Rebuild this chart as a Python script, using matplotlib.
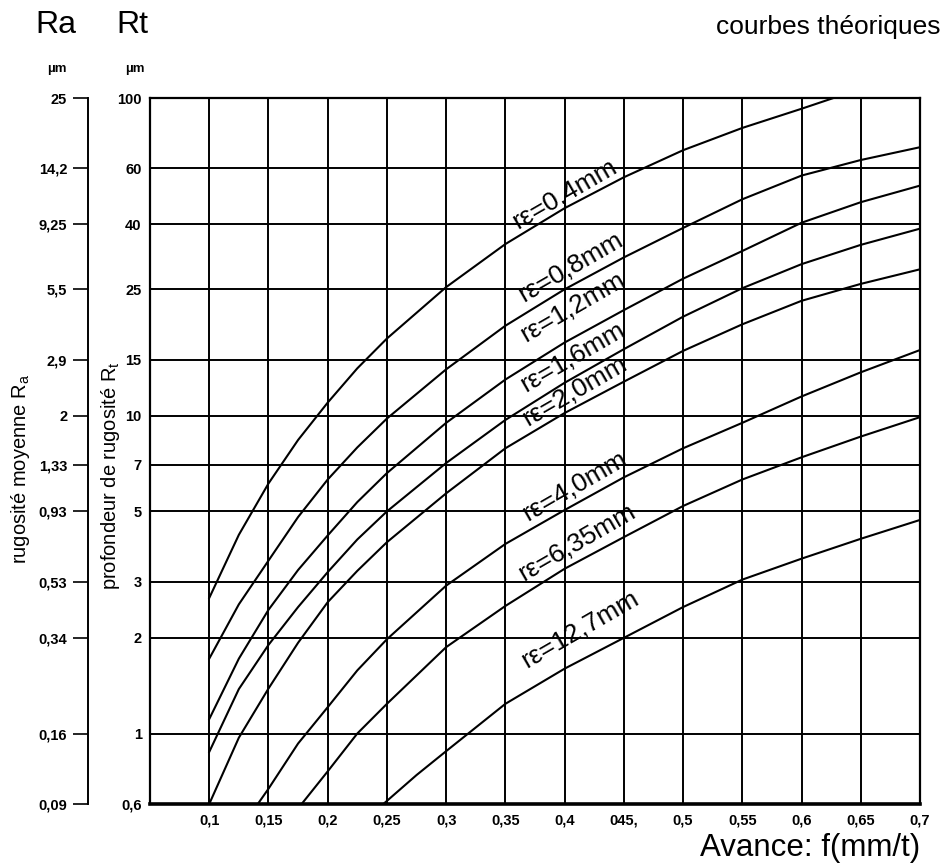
import matplotlib
matplotlib.use('Agg')
import matplotlib.pyplot as plt
from matplotlib.ticker import NullLocator

plt.rcParams['font.family'] = ['Liberation Sans', 'DejaVu Sans']

# ---- axis data ----
feed_ticks = [0.1, 0.15, 0.2, 0.25, 0.3, 0.35, 0.4, 0.45, 0.5, 0.55, 0.6, 0.65, 0.7]
feed_labels = ["0,1", "0,15", "0,2", "0,25", "0,3", "0,35", "0,4", "045,", "0,5",
               "0,55", "0,6", "0,65", "0,7"]
rt_ticks = [0.6, 1, 2, 3, 5, 7, 10, 15, 25, 40, 60, 100]
rt_labels = ["0,6", "1", "2", "3", "5", "7", "10", "15", "25", "40", "60", "100"]
ra_labels = ["0,09", "0,16", "0,34", "0,53", "0,93", "1,33", "2", "2,9", "5,5",
             "9,25", "14,2", "25"]

# ---- curves (feed f in mm/t, Rt in µm) ----
f_04 = [0.1, 0.125, 0.15, 0.175, 0.2, 0.225, 0.25, 0.3, 0.35, 0.4, 0.45, 0.5,
        0.55, 0.6, 0.627]
rt_04 = [2.67, 4.22, 6.12, 8.39, 11.0, 14.1, 17.5, 25.4, 34.7, 45, 56.3, 68.5,
         80.5, 92.5, 100]

f_08 = [0.1, 0.125, 0.15, 0.175, 0.2, 0.225, 0.25, 0.3, 0.35, 0.4, 0.45, 0.5,
        0.55, 0.6, 0.65, 0.7]
rt_08 = [1.72, 2.55, 3.5, 4.8, 6.3, 7.95, 9.8, 14, 19.2, 25, 31.5, 39,
         48, 57, 63.8, 70]

f_12 = [0.1, 0.125, 0.15, 0.175, 0.2, 0.225, 0.25, 0.3, 0.35, 0.4, 0.45, 0.5,
        0.55, 0.6, 0.65, 0.7]
rt_12 = [1.11, 1.72, 2.45, 3.27, 4.2, 5.35, 6.6, 9.5, 13, 17, 21.5, 27,
         33, 40.5, 47, 53]

f_16 = [0.1, 0.125, 0.15, 0.175, 0.2, 0.225, 0.25, 0.3, 0.35, 0.4, 0.45, 0.5,
        0.55, 0.6, 0.65, 0.7]
rt_16 = [0.875, 1.38, 1.9, 2.5, 3.22, 4.08, 5.0, 7.1, 9.7, 12.7, 16.2, 20.5,
         25.2, 30, 34.5, 38.8]

f_20 = [0.1, 0.125, 0.15, 0.175, 0.2, 0.225, 0.25, 0.3, 0.35, 0.4, 0.45, 0.5,
        0.55, 0.6, 0.65, 0.7]
rt_20 = [0.6, 0.97, 1.385, 1.93, 2.59, 3.25, 4.0, 5.7, 7.9, 10.2, 12.8, 16,
         19.4, 23, 26, 28.9]

f_40 = [0.141, 0.15, 0.175, 0.2, 0.225, 0.25, 0.3, 0.35, 0.4, 0.45, 0.5, 0.55,
        0.6, 0.65, 0.7]
rt_40 = [0.6, 0.67, 0.93, 1.21, 1.58, 1.98, 2.92, 3.95, 5.05, 6.4, 7.9, 9.5,
         11.5, 13.7, 16.1]

f_635 = [0.178, 0.2, 0.225, 0.25, 0.3, 0.35, 0.4, 0.45, 0.5, 0.55, 0.6, 0.65, 0.7]
rt_635 = [0.6, 0.76, 1.0, 1.24, 1.87, 2.52, 3.3, 4.15, 5.2, 6.3, 7.4, 8.6, 9.9]

f_127 = [0.247, 0.275, 0.3, 0.35, 0.4, 0.45, 0.5, 0.55, 0.6, 0.65, 0.7]
rt_127 = [0.6, 0.74, 0.88, 1.24, 1.6, 2.0, 2.5, 3.05, 3.55, 4.1, 4.7]

curve_labels = ["rε=0,4mm", "rε=0,8mm", "rε=1,2mm", "rε=1,6mm", "rε=2,0mm",
                "rε=4,0mm", "rε=6,35mm", "rε=12,7mm"]
label_f = [0.400, 0.405, 0.407, 0.407, 0.408, 0.408, 0.41, 0.413]
label_rt = [50, 29.5, 22, 15.3, 12.0, 6.0, 4.0, 2.13]

W, H = 946, 868
fig = plt.figure(figsize=(W / 100, H / 100), dpi=100)
fig.patch.set_facecolor('white')

ax = fig.add_axes([150 / W, 1 - 804 / H, 770 / W, 706 / H])
ax.set_yscale('log')
ax.set_xlim(0.05, 0.7)
ax.set_ylim(0.6, 100)
ax.set_xticks(feed_ticks, feed_labels)
ax.set_yticks(rt_ticks, rt_labels)
ax.yaxis.set_minor_locator(NullLocator())
ax.xaxis.set_minor_locator(NullLocator())
ax.grid(True, color='black', lw=1.4)
ax.set_axisbelow(True)
ax.tick_params(axis='both', length=0)
ax.tick_params(axis='x', pad=7, labelsize=10.5)
ax.tick_params(axis='y', pad=6, labelsize=10.5)
for lab in ax.get_xticklabels() + ax.get_yticklabels():
    lab.set_fontweight('bold')
for sp in ax.spines.values():
    sp.set_linewidth(1.6)
ax.spines['bottom'].set_linewidth(2.6)

series = [(f_04, rt_04), (f_08, rt_08), (f_12, rt_12), (f_16, rt_16),
          (f_20, rt_20), (f_40, rt_40), (f_635, rt_635), (f_127, rt_127)]
for fx, ry in series:
    ax.plot(fx, ry, color='black', lw=1.5, solid_joinstyle='round')

for txt, fx, ry in zip(curve_labels, label_f, label_rt):
    ax.text(fx, ry, txt, rotation=30, rotation_mode='anchor', ha='center',
            va='center', fontsize=19)

# Ra scale
ax2 = fig.add_axes([88 / W, 1 - 804 / H, 0.0005, 706 / H])
ax2.set_yscale('log')
ax2.set_ylim(0.6, 100)
ax2.set_yticks(rt_ticks, ra_labels)
ax2.yaxis.set_minor_locator(NullLocator())
ax2.set_xticks([])
ax2.patch.set_alpha(0)
for k in ['top', 'right', 'bottom']:
    ax2.spines[k].set_visible(False)
ax2.spines['left'].set_linewidth(1.4)
ax2.tick_params(axis='y', direction='out', length=11, width=1.2, pad=4,
                labelsize=10.5)
for lab in ax2.get_yticklabels():
    lab.set_fontweight('bold')

# headers and titles
fig.text(35 / W, 1 - 25 / H, "Ra", fontsize=23, ha='left', va='center')
fig.text(116 / W, 1 - 25 / H, "Rt", fontsize=23, ha='left', va='center')
fig.text(57 / W, 1 - 69 / H, "µm", fontsize=9.5, fontweight='bold', ha='center', va='center')
fig.text(135 / W, 1 - 69 / H, "µm", fontsize=9.5, fontweight='bold', ha='center', va='center')
fig.text(940 / W, 1 - 27 / H, "courbes théoriques", fontsize=19, ha='right', va='center')
fig.text(920 / W, 1 - 848 / H, "Avance: f(mm/t)", fontsize=22.5, ha='right', va='center')
fig.text(21 / W, 1 - 469 / H, "rugosité moyenne R$_\\mathregular{a}$", fontsize=14.5,
         rotation=90, ha='center', va='center')
fig.text(110 / W, 1 - 476 / H, "profondeur de rugosité R$_\\mathregular{t}$", fontsize=14.5,
         rotation=90, ha='center', va='center')

fig.savefig('out.png', dpi=100)
